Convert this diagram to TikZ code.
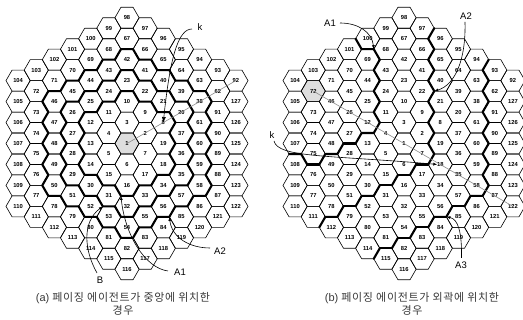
\documentclass[tikz,border=0pt]{standalone}
\usepackage{fontspec}
\setmainfont{Liberation Sans}
\newfontfamily\krfont[LetterSpace=6]{Noto Sans CJK KR}
\usetikzlibrary{calc,arrows.meta}
\newcommand\hexR{12.1}
% place the 127 cell centres of one grid as coordinates #1<n>
\newcommand\placegrid[3]{%
  \coordinate (#11) at (#2,#3);
  \foreach \k in {1,...,6}{%
    \pgfmathtruncatemacro\km{\k-1}%
    \foreach \s in {0,...,5}{%
      \foreach \t in {0,...,\km}{%
        \pgfmathtruncatemacro\n{3*\k*(\k-1)+2+\s*\k+\t}%
        \pgfmathsetmacro\px{#2+1.7320508*\hexR*((\k-\t)*cos(30+60*\s)+\t*cos(90+60*\s))}%
        \pgfmathsetmacro\py{#3+1.7320508*\hexR*((\k-\t)*sin(30+60*\s)+\t*sin(90+60*\s))}%
        \coordinate (#1\n) at (\px,\py);
      }%
    }%
  }%
}
\newcommand\hexpath[1]{(#1) +(0:\hexR) -- +(60:\hexR) -- +(120:\hexR) -- +(180:\hexR) -- +(240:\hexR) -- +(300:\hexR) -- cycle}
% thick outer boundary of ring #2
\newcommand\ringline[2]{%
  \pgfmathtruncatemacro\rkm{#2-1}%
  \foreach \s in {0,...,5}{%
    \foreach \t in {0,...,\rkm}{%
      \pgfmathtruncatemacro\n{3*#2*(#2-1)+2+\s*#2+\t}%
      \pgfmathtruncatemacro\th{30+60*\s}%
      \ifnum\t=0\relax
        \draw[thickline] (#1\n) +({\th-90}:\hexR) -- +({\th-30}:\hexR) -- +({\th+30}:\hexR) -- +({\th+90}:\hexR);
      \else
        \draw[thickline] (#1\n) +({\th-30}:\hexR) -- +({\th+30}:\hexR) -- +({\th+90}:\hexR);
      \fi
    }%
  }%
}
% thick shared edge of two neighbouring cells
\newcommand\tedge[3]{%
  \coordinate (tmpm) at ($(#1#2)!0.5!(#1#3)$);
  \draw[thickline] ($(tmpm)!0.57735!90:(#1#3)$) -- ($(tmpm)!0.57735!-90:(#1#3)$);
}
\begin{document}
\begin{tikzpicture}[x=1pt,y=1pt,
  cellnum/.style={font=\fontsize{5.8}{6}\selectfont\bfseries, inner sep=0pt},
  hexline/.style={line width=0.6pt, black, line join=round},
  thickline/.style={line width=2.1pt, black, line cap=round, line join=round},
  shaded/.style={fill=black!13},
  lbl/.style={font=\fontsize{9.5}{10}\selectfont, inner sep=0.5pt},
  pointer/.style={line width=0.6pt, -{Latex[length=4pt,width=3pt]}},
  bigpointer/.style={line width=0.6pt, -{Latex[length=5.5pt,width=4pt]}},
  distline/.style={line width=0.6pt, black!45},
  captext/.style={font=\fontsize{11}{12.5}\selectfont, align=center, text=black!78, inner sep=0pt}
]
\useasboundingbox (0,0) rectangle (523,320);
\placegrid{ca}{127}{176.5}
\placegrid{cb}{404}{176.5}

% shaded cells
\fill[shaded] \hexpath{ca1};
\fill[shaded] \hexpath{cb72};

% hexagons
\foreach \n in {1,...,127}{
  \draw[hexline] \hexpath{ca\n};
  \draw[hexline] \hexpath{cb\n};
}

% ---- thick lines, panel (a): ring boundaries around the centre cell
\ringline{ca}{2}
\ringline{ca}{3}
\ringline{ca}{4}

% ---- thick lines, panel (b): distance contours around cell 72
\foreach \p/\q in {101/100,100/69,69/68,69/43,44/43,44/24,25/24,25/11,12/11,12/4,12/13,27/13,27/28,48/28,48/49,75/49,75/76,75/108,107/108}{\tedge{cb}{\p}{\q}}
\foreach \p/\q in {97/96,66/96,66/65,41/65,41/40,22/40,22/21,9/21,9/8,2/8,2/19,7/19,7/18,7/17,6/17,6/16,15/16,15/31,30/31,30/52,51/52,51/79,78/79,78/112,111/112}{\tedge{cb}{\p}{\q}}
\foreach \p/\q in {94/93,63/93,63/62,38/62,38/91,61/91,61/90,60/90,60/89,59/89,59/88,58/88,58/87,58/86,57/86,57/85,56/85,56/84,55/84,55/83,54/83,54/82,81/82,81/115,114/115}{\tedge{cb}{\p}{\q}}

% cell numbers
\foreach \n in {1,...,127}{
  \node[cellnum] (a\n) at (ca\n) {\n};
  \node[cellnum] (b\n) at (cb\n) {\n};
}

% ---- panel (a) annotations
\draw[distline] (ca1) -- (ca92);
\node[lbl] (ka) at (200,293) {k};
\coordinate (kas) at (192,291);
\draw[bigpointer] (kas) .. controls (178,291) and (170,262) .. (ca8);
\node[lbl] (A1a) at (180,48) {A1};
\coordinate (A1as) at (168,49);
\draw[pointer] (A1as) .. controls (145,52) and (125,85) .. ($(ca31)+(0:\hexR)$);
\node[lbl] (A2a) at (220,69) {A2};
\coordinate (A2as) at (210,72);
\draw[pointer] (A2as) .. controls (190,72) and (172,82) .. ($(ca84)+(60:\hexR)$);
\node[lbl] (Ba) at (100,40) {B};
\coordinate (Bas) at (97,47);
\draw[pointer] (Bas) .. controls (84,70) and (82,98) .. ($(ca52)+(0:\hexR)$);
\node[captext] (capa) at (123,16) {(a) {\krfont 페이징 에이전트가 중앙에 위치한}\\{\krfont 경우}};

% ---- panel (b) annotations
\draw[distline] (cb72) -- (cb122);
\node[lbl] (A1b) at (330,297) {A1};
\coordinate (A1bs) at (340,297);
\draw[pointer] (A1bs) .. controls (358,297) and (372,288) .. ($(cb68)+(180:\hexR)$);
\node[lbl] (A2b) at (466,304) {A2};
\coordinate (A2bs) at (465,298);
\draw[pointer] (A2bs) .. controls (466,260) and (455,235) .. ($(cb22)+(0:\hexR)$);
\node[lbl] (A3b) at (461,55) {A3};
\coordinate (A3bs) at (461.5,62);
\draw[pointer] (A3bs) .. controls (462,88) and (458,101) .. ($(cb85)+(180:\hexR)$);
\node[lbl] (kb) at (272,185) {k};
\coordinate (kbs) at (274,179);
\draw[pointer] (kbs) .. controls (278,162) and (330,165) .. ($(cb18)+(-3,0)$);
\node[captext] (capb) at (412,16) {(b) {\krfont 페이징 에이전트가 외곽에 위치한}\\{\krfont 경우}};
\end{tikzpicture}
\end{document}
